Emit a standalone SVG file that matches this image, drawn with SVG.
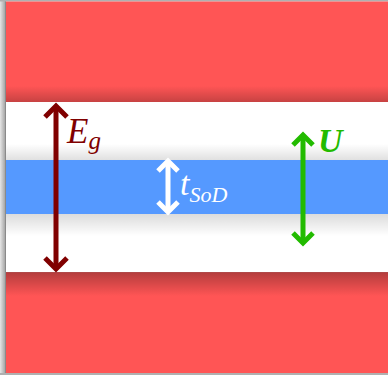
<svg xmlns="http://www.w3.org/2000/svg" width="388" height="375" viewBox="0 0 388 375">
  <style>
    .lbl { font-family: "Liberation Serif", "DejaVu Serif", serif; font-style: italic; }
    .arr { fill: none; stroke-width: 5; stroke-linejoin: miter; stroke-linecap: butt; }
  </style>
  <defs>
    <linearGradient id="leftEdge" x1="0" y1="0" x2="1" y2="0">
      <stop offset="0" stop-color="#e6e6e6"/>
      <stop offset="1" stop-color="#9a9a9a"/>
    </linearGradient>
    <linearGradient id="shTopRed" x1="0" y1="0" x2="0" y2="1">
      <stop offset="0" stop-color="#000" stop-opacity="0"/>
      <stop offset="1" stop-color="#000" stop-opacity="0.22"/>
    </linearGradient>
    <linearGradient id="shBotRed" x1="0" y1="0" x2="0" y2="1">
      <stop offset="0" stop-color="#000" stop-opacity="0.3"/>
      <stop offset="1" stop-color="#000" stop-opacity="0"/>
    </linearGradient>
    <linearGradient id="shAboveBlue" x1="0" y1="0" x2="0" y2="1">
      <stop offset="0" stop-color="#000" stop-opacity="0"/>
      <stop offset="1" stop-color="#000" stop-opacity="0.12"/>
    </linearGradient>
    <linearGradient id="shBelowBlue" x1="0" y1="0" x2="0" y2="1">
      <stop offset="0" stop-color="#000" stop-opacity="0.14"/>
      <stop offset="1" stop-color="#000" stop-opacity="0"/>
    </linearGradient>
  </defs>

  <rect x="0" y="0" width="388" height="375" fill="#ffffff"/>

  <g id="frame">
    <rect x="0" y="0" width="6" height="375" fill="url(#leftEdge)"/>
    <rect x="5" y="0" width="1" height="375" fill="#8a8a8a"/>
    <rect x="0" y="0" width="388" height="1.5" fill="#b0b0b0"/>
    <rect x="0" y="373" width="388" height="2" fill="#b0b0b0"/>
  </g>

  <g id="band-top-red">
    <rect x="6" y="1.5" width="382" height="100.5" fill="#ff5555"/>
    <rect x="6" y="86" width="382" height="16" fill="url(#shTopRed)"/>
  </g>

  <g id="band-blue">
    <rect x="6" y="144" width="382" height="16" fill="url(#shAboveBlue)"/>
    <rect x="6" y="160" width="382" height="54" fill="#5599ff"/>
    <rect x="6" y="214" width="382" height="22" fill="url(#shBelowBlue)"/>
  </g>

  <g id="band-bottom-red">
    <rect x="6" y="272" width="382" height="101" fill="#ff5555"/>
    <rect x="6" y="272" width="382" height="24" fill="url(#shBotRed)"/>
    <rect x="6" y="272" width="382" height="1" fill="#b04848"/>
  </g>

  <g id="connectors">
    <g id="arrow-Eg" stroke="#800000" class="arr">
      <line x1="56" y1="107" x2="56" y2="268"/>
      <polyline points="45,117 56,106 67,117"/>
      <polyline points="45,258 56,269 67,258"/>
    </g>
    <g id="arrow-tSoD" stroke="#ffffff" class="arr">
      <line x1="168" y1="162" x2="168" y2="211"/>
      <polyline points="158,171 168,161 178,171"/>
      <polyline points="158,202 168,212 178,202"/>
    </g>
    <g id="arrow-U" stroke="#22bb00" class="arr">
      <line x1="303" y1="136" x2="303" y2="242"/>
      <polyline points="293,145 303,135 313,145"/>
      <polyline points="293,233 303,243 313,233"/>
    </g>
  </g>

  <g id="label-Eg">
    <text class="lbl" x="67" y="143" fill="#800000" font-size="35">E<tspan font-size="25" dy="6">g</tspan></text>
  </g>
  <g id="label-tSoD">
    <text class="lbl" x="180" y="195" fill="#ffffff" font-size="34">t<tspan font-size="22" dy="7">SoD</tspan></text>
  </g>
  <g id="label-U">
    <text class="lbl" x="318" y="152" fill="#22bb00" font-size="34" font-weight="bold">U</text>
  </g>
</svg>
